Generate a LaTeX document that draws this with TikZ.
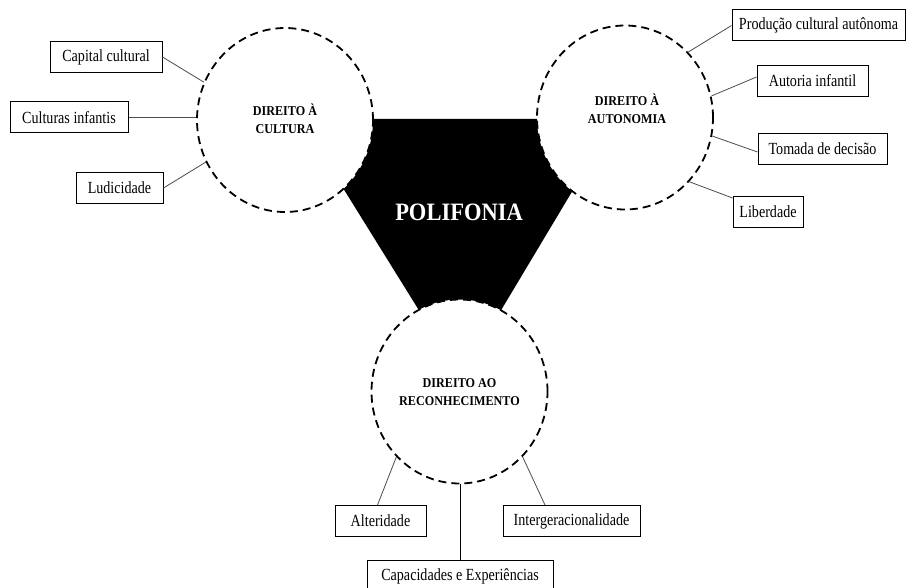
\documentclass[tikz,border=0pt]{standalone}
\usepackage{fontspec}
\setmainfont{Liberation Serif}[FakeStretch=0.83]
\newfontfamily\lblfont{Liberation Serif}[FakeStretch=0.9]
\usetikzlibrary{shapes.geometric}
\begin{document}
\begin{tikzpicture}[x=1pt,y=-1pt,
  box/.style={draw=black, line width=1pt, fill=white, inner sep=0pt,
    font=\fontsize{17}{20}\selectfont, minimum height=31pt},
  ring/.style={ellipse, draw=black, fill=white, line width=1.8pt,
    dash pattern=on 8pt off 5pt, minimum width=176pt, minimum height=184pt, inner sep=0pt},
  lbl/.style={align=center, font=\lblfont\fontsize{13.5}{17.5}\selectfont\bfseries},
  link/.style={draw=black!70, line width=0.8pt}]
\useasboundingbox (0,0) rectangle (907,588);
\clip (0,0) rectangle (907,588);
\fill[white] (0,0) rectangle (907,588);

% central black shape
\fill[black] (372,119) -- (538,119) -- (576,185) -- (500,312) -- (420,312) -- (340.5,184) -- cycle;

% rings
\node[ring] (cult) at (285,120) {};
\node[ring] (auto) at (625,117.5) {};
\node[ring] (reco) at (459.5,391.5) {};

\node[lbl] (lcult) at (285,119) {DIREITO À\\CULTURA};
\node[lbl] (lauto) at (627,109) {DIREITO À\\AUTONOMIA};
\node[lbl] (lreco) at (459.5,392) {DIREITO AO\\RECONHECIMENTO};
\node[font=\lblfont\fontsize{25}{29}\selectfont\bfseries, text=white] (poli) at (459,212) {POLIFONIA};

% boxes
\node[box, minimum width=112pt] (capc) at (106,57) {Capital cultural};
\node[box, minimum width=118pt] (culi) at (69,117.5) {Culturas infantis};
\node[box, minimum width=87pt] (ludi) at (119.5,188) {Ludicidade};
\node[box, minimum width=173pt] (prod) at (818.5,25.5) {Produção cultural autônoma};
\node[box, minimum width=111pt] (autinf) at (812.5,81) {Autoria infantil};
\node[box, minimum width=129pt] (toma) at (822.5,149) {Tomada de decisão};
\node[box, minimum width=70pt] (libe) at (768,212) {Liberdade};
\node[box, minimum width=91pt] (alte) at (380.5,521) {Alteridade};
\node[box, minimum width=137pt] (inte) at (571.5,521) {Intergeracionalidade};
\node[box, minimum width=186pt] (capx) at (460,576) {Capacidades e Experiências};

% connectors
\draw[link] (capc.east) -- (cult.155);
\draw[link] (culi.east) -- (culi.east -| cult.west);
\draw[link] (ludi.east) -- (cult.208);
\draw[link] (prod.west) -- (auto.46.6);
\draw[link] ([yshift=4pt]autinf.west) -- (auto.14.8);
\draw[link] ([yshift=-3pt]toma.west) -- (auto.-12.9);
\draw[link] ([yshift=-2pt]libe.north west) -- (auto.-45.7);
\draw[link] ([xshift=-3pt]alte.north) -- (reco.226.8);
\draw[link] ([xshift=-26.5pt]inte.north) -- (reco.-46.3);
\draw[black, line width=1pt] (capx.north) -- (capx.north |- reco.south);
\end{tikzpicture}
\end{document}
